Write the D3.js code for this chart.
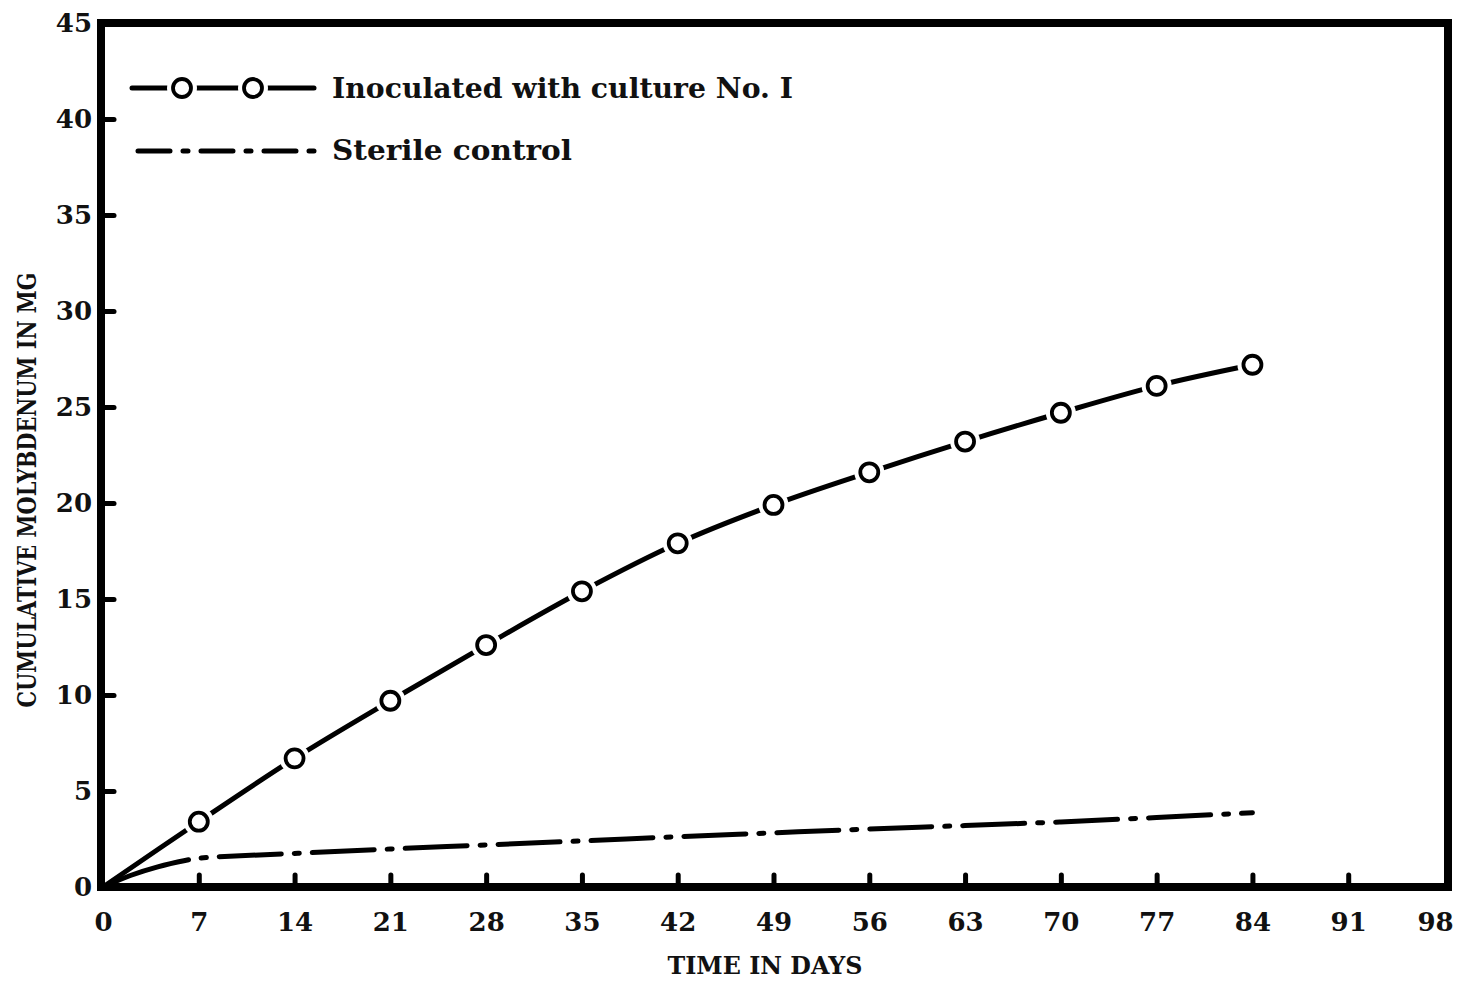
<!DOCTYPE html>
<html>
<head>
<meta charset="utf-8">
<script src="https://cdn.jsdelivr.net/npm/d3@7"></script>
<style>
  html, body { margin: 0; padding: 0; background: #fff; }
  svg { display: block; }
  text { font-family: "DejaVu Serif", "Liberation Serif", serif; font-weight: bold; fill: #111; }
</style>
</head>
<body>
<svg id="chart" width="1460" height="987"></svg>
<script>
// ---- data ----
const days = [0, 7, 14, 21, 28, 35, 42, 49, 56, 63, 70, 77, 84];
const inoculated = [0, 3.4, 6.7, 9.7, 12.6, 15.4, 17.9, 19.9, 21.6, 23.2, 24.7, 26.1, 27.2];
const markerDays = [7, 14, 21, 28, 35, 42, 49, 56, 63, 70, 77, 84];
const sterileDays = [0, 2, 4, 6, 7, 14, 21, 28, 35, 42, 49, 56, 63, 70, 77, 84];
const sterile = [0, 0.6, 1.05, 1.38, 1.5, 1.75, 1.98, 2.19, 2.4, 2.62, 2.82, 3.02, 3.2, 3.39, 3.62, 3.87];
const xTicks = [0, 7, 14, 21, 28, 35, 42, 49, 56, 63, 70, 77, 84, 91, 98];
const yTicks = [0, 5, 10, 15, 20, 25, 30, 35, 40, 45];
const legendLabels = ["Inoculated with culture No. I", "Sterile control"];
const xTitle = "TIME IN DAYS";
const yTitle = "CUMULATIVE MOLYBDENUM IN MG";

// ---- layout ----
const svg = d3.select("#chart");
const frame = { left: 101, right: 1448, top: 23, bottom: 887 };
const x = d3.scaleLinear().domain([0, 98]).range([103, 1444]);
const y = d3.scaleLinear().domain([0, 45]).range([frame.bottom, frame.top]);

const inocData = days.map((d, i) => ({ d, v: inoculated[i] }));
const markerData = inocData.filter(p => markerDays.includes(p.d));
const sterData = sterileDays.map((d, i) => ({ d, v: sterile[i] }));

const lineGen = d3.line().x(p => x(p.d)).y(p => y(p.v)).curve(d3.curveCatmullRom.alpha(0.5));

// sterile (dash-dot)
const sterDash = [90, 13, 5, 13];
for (let i = 0; i < 20; i++) sterDash.push(62, 13, 5, 13);
svg.append("path")
  .datum(sterData)
  .attr("d", lineGen)
  .attr("fill", "none")
  .attr("stroke", "#000")
  .attr("stroke-width", 5)
  .attr("stroke-linecap", "round")
  .attr("stroke-dasharray", sterDash.join(","));

// inoculated line
svg.append("path")
  .datum(inocData)
  .attr("d", lineGen)
  .attr("fill", "none")
  .attr("stroke", "#000")
  .attr("stroke-width", 5)
  .attr("stroke-linecap", "round");

// markers with white halo
const mk = svg.append("g");
mk.selectAll("circle.halo").data(markerData).enter().append("circle")
  .attr("class", "halo")
  .attr("cx", p => x(p.d)).attr("cy", p => y(p.v)).attr("r", 15)
  .attr("fill", "#fff");
mk.selectAll("circle.pt").data(markerData).enter().append("circle")
  .attr("class", "pt")
  .attr("cx", p => x(p.d)).attr("cy", p => y(p.v)).attr("r", 9)
  .attr("fill", "#fff").attr("stroke", "#000").attr("stroke-width", 3.8);

// frame
svg.append("rect")
  .attr("x", frame.left).attr("y", frame.top)
  .attr("width", frame.right - frame.left).attr("height", frame.bottom - frame.top)
  .attr("fill", "none").attr("stroke", "#000").attr("stroke-width", 8);

// x axis
const xAxis = d3.axisBottom(x).tickValues(xTicks).tickSizeInner(-12).tickSizeOuter(0).tickPadding(26).tickFormat(d3.format("d"));
const gx = svg.append("g").attr("transform", `translate(0,${frame.bottom})`).call(xAxis);
gx.select(".domain").remove();
gx.selectAll(".tick line")
  .attr("stroke", "#000").attr("stroke-width", 5).attr("stroke-linecap", "round")
  .attr("display", d => (d === 0 || d === 98) ? "none" : null);
gx.selectAll(".tick text")
  .attr("font-size", 26).attr("fill", "#111")
  .attr("font-family", "DejaVu Serif, serif").attr("font-weight", "bold")
  .attr("dx", d => d === 98 ? -9 : 0);

// y axis
const yAxis = d3.axisLeft(y).tickValues(yTicks).tickSizeInner(-13).tickSizeOuter(0).tickPadding(9).tickFormat(d3.format("d"));
const gy = svg.append("g").attr("transform", `translate(${frame.left},0)`).call(yAxis);
gy.select(".domain").remove();
gy.selectAll(".tick line")
  .attr("stroke", "#000").attr("stroke-width", 5).attr("stroke-linecap", "round")
  .attr("display", d => (d === 0 || d === 45) ? "none" : null);
gy.selectAll(".tick text")
  .attr("font-size", 26).attr("fill", "#111")
  .attr("font-family", "DejaVu Serif, serif").attr("font-weight", "bold");

// axis titles
svg.append("text")
  .attr("x", 765).attr("y", 974)
  .attr("text-anchor", "middle").attr("font-size", 25)
  .attr("textLength", 195).attr("lengthAdjust", "spacingAndGlyphs")
  .text(xTitle);
svg.append("text")
  .attr("transform", "translate(36,490) rotate(-90)")
  .attr("text-anchor", "middle").attr("font-size", 26)
  .attr("textLength", 435).attr("lengthAdjust", "spacingAndGlyphs")
  .text(yTitle);

// legend
const lg = svg.append("g");
lg.append("line")
  .attr("x1", 132).attr("x2", 314).attr("y1", 88).attr("y2", 88)
  .attr("stroke", "#000").attr("stroke-width", 5).attr("stroke-linecap", "round");
[182, 253].forEach(cx => {
  lg.append("circle").attr("cx", cx).attr("cy", 88).attr("r", 15).attr("fill", "#fff");
  lg.append("circle").attr("cx", cx).attr("cy", 88).attr("r", 9)
    .attr("fill", "#fff").attr("stroke", "#000").attr("stroke-width", 3.8);
});
lg.append("line")
  .attr("x1", 138).attr("x2", 314).attr("y1", 151).attr("y2", 151)
  .attr("stroke", "#000").attr("stroke-width", 5).attr("stroke-linecap", "round")
  .attr("stroke-dasharray", "32,13,5,13");
const legLen = [461, 240];
[[332, 98], [332, 160]].forEach(([tx, ty], i) => {
  lg.append("text")
    .attr("x", tx).attr("y", ty)
    .attr("font-size", 27)
    .attr("textLength", legLen[i]).attr("lengthAdjust", "spacingAndGlyphs")
    .text(legendLabels[i]);
});
</script>
</body>
</html>
